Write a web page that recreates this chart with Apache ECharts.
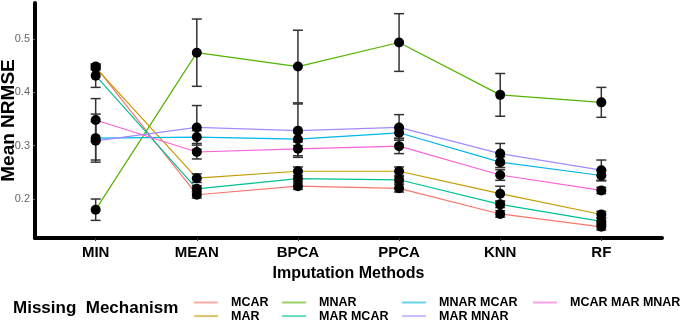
<!DOCTYPE html>
<html>
<head>
<meta charset="utf-8">
<script src="https://cdn.jsdelivr.net/npm/echarts@6/dist/echarts.min.js"></script>
<style>
html, body { margin: 0; padding: 0; background: #fff; }
#main { width: 685px; height: 320px; }
</style>
</head>
<body>
<div id="main"></div>
<script>
// imputation methods on the x axis
var methods = ['MIN', 'MEAN', 'BPCA', 'PPCA', 'KNN', 'RF'];
var yTicks = [0.2, 0.3, 0.4, 0.5];

// mean NRMSE per missing mechanism
var mcar      = [0.448, 0.208, 0.224, 0.220, 0.172, 0.148];
var mar       = [0.446, 0.239, 0.252, 0.252, 0.210, 0.171];
var mnar      = [0.180, 0.474, 0.448, 0.493, 0.395, 0.381];
var marMcar   = [0.431, 0.219, 0.238, 0.236, 0.190, 0.158];
var mnarMcar  = [0.314, 0.316, 0.312, 0.324, 0.269, 0.244];
var marMnar   = [0.309, 0.334, 0.328, 0.334, 0.285, 0.254];
var mcarMarMnar = [0.348, 0.288, 0.294, 0.299, 0.245, 0.216];

// error bar half widths
var mcarErr      = [0.004, 0.006, 0.006, 0.007, 0.006, 0.006];
var marErr       = [0.004, 0.008, 0.008, 0.008, 0.014, 0.006];
var mnarErr      = [0.020, 0.063, 0.068, 0.054, 0.040, 0.028];
var marMcarErr   = [0.022, 0.006, 0.006, 0.006, 0.006, 0.006];
var mnarMcarErr  = [0.045, 0.012, 0.012, 0.010, 0.010, 0.010];
var marMnarErr   = [0.036, 0.041, 0.050, 0.024, 0.019, 0.019];
var mcarMarMnarErr = [0.040, 0.013, 0.013, 0.014, 0.010, 0.006];

var groups = [
    { name: 'MCAR', values: mcar, err: mcarErr, color: '#F8766D' },
    { name: 'MAR', values: mar, err: marErr, color: '#C49A00' },
    { name: 'MNAR', values: mnar, err: mnarErr, color: '#53B400' },
    { name: 'MAR MCAR', values: marMcar, err: marMcarErr, color: '#00C094' },
    { name: 'MNAR MCAR', values: mnarMcar, err: mnarMcarErr, color: '#00B6EB' },
    { name: 'MAR MNAR', values: marMnar, err: marMnarErr, color: '#A58AFF' },
    { name: 'MCAR MAR MNAR', values: mcarMarMnar, err: mcarMarMnarErr, color: '#FB61D7' }
];

var myChart = echarts.init(document.getElementById('main'));

var series = [];
groups.forEach(function (g) {
    var pts = g.values.map(function (v, i) { return [i + 1, v]; });
    series.push({
        name: g.name,
        type: 'line',
        data: pts,
        showSymbol: false,
        lineStyle: { color: g.color, width: 1.2 },
        itemStyle: { color: g.color },
        z: 2,
        silent: true
    });
});
groups.forEach(function (g) {
    var bars = g.values.map(function (v, i) { return [i + 1, v - g.err[i], v + g.err[i]]; });
    series.push({
        name: g.name + ' err',
        type: 'custom',
        data: bars,
        z: 3,
        silent: true,
        renderItem: function (params, api) {
            var lo = api.coord([api.value(0), api.value(1)]);
            var hi = api.coord([api.value(0), api.value(2)]);
            var hw = 5;
            var st = { stroke: '#333', lineWidth: 1.5 };
            return {
                type: 'group',
                children: [
                    { type: 'line', shape: { x1: lo[0], y1: lo[1], x2: hi[0], y2: hi[1] }, style: st },
                    { type: 'line', shape: { x1: lo[0] - hw, y1: lo[1], x2: lo[0] + hw, y2: lo[1] }, style: st },
                    { type: 'line', shape: { x1: hi[0] - hw, y1: hi[1], x2: hi[0] + hw, y2: hi[1] }, style: st }
                ]
            };
        }
    });
});
groups.forEach(function (g) {
    series.push({
        name: g.name + ' pts',
        type: 'scatter',
        data: g.values.map(function (v, i) { return [i + 1, v]; }),
        symbolSize: 10,
        itemStyle: { color: '#000', opacity: 1 },
        z: 4,
        silent: true
    });
});

function legendCol(names, left) {
    return {
        orient: 'vertical',
        left: left,
        top: 296,
        padding: 0,
        height: 30,
        itemWidth: 24,
        itemHeight: 2,
        itemGap: 0.6,
        icon: 'rect',
        selectedMode: false,
        textStyle: { fontSize: 12.5, fontWeight: 'bold', color: '#000', fontFamily: 'Liberation Sans, Arial, sans-serif', lineHeight: 11, padding: [0, 0, 0, 8] },
        data: names.map(function (n) {
            var g = groups.filter(function (x) { return x.name === n; })[0];
            return { name: n, itemStyle: { color: g.color, opacity: 0.6 } };
        })
    };
}

var option = {
    backgroundColor: '#fff',
    animation: false,
    title: {
        text: 'Missing  Mechanism',
        left: 13,
        top: 300,
        padding: 0,
        textStyle: { fontSize: 17, fontWeight: 'bold', color: '#000', fontFamily: 'Liberation Sans, Arial, sans-serif' }
    },
    legend: [
        legendCol(['MCAR', 'MAR'], 194),
        legendCol(['MNAR', 'MAR MCAR'], 282),
        legendCol(['MNAR MCAR', 'MAR MNAR'], 402),
        legendCol(['MCAR MAR MNAR'], 533)
    ],
    grid: { left: 35, right: 23, top: 3, bottom: 82, containLabel: false, outerBoundsMode: 'none' },
    xAxis: {
        type: 'value',
        min: 0.4,
        max: 6.6,
        name: 'Imputation Methods',
        nameLocation: 'middle',
        nameGap: 28,
        nameMoveOverlap: false,
        nameTextStyle: { fontSize: 16, fontWeight: 'bold', color: '#000', fontFamily: 'Liberation Sans, Arial, sans-serif' },
        axisLine: { show: true, lineStyle: { color: '#000', width: 4 } },
        axisTick: { show: true, length: 3, customValues: [1, 2, 3, 4, 5, 6], lineStyle: { color: '#333' } },
        splitLine: { show: false },
        axisLabel: {
            customValues: [1, 2, 3, 4, 5, 6],
            formatter: function (v) { return methods[Math.round(v) - 1]; },
            fontSize: 15,
            fontWeight: 'bold',
            color: '#000',
            margin: 7,
            fontFamily: 'Liberation Sans, Arial, sans-serif'
        }
    },
    yAxis: {
        type: 'value',
        min: 0.127,
        max: 0.567,
        name: 'Mean NRMSE',
        nameLocation: 'middle',
        nameGap: 17,
        nameMoveOverlap: false,
        nameTextStyle: { fontSize: 19, fontWeight: 'bold', color: '#000', fontFamily: 'Liberation Sans, Arial, sans-serif' },
        axisLine: { show: true, lineStyle: { color: '#000', width: 4 } },
        axisTick: { show: true, length: 2, customValues: yTicks, lineStyle: { color: '#666' } },
        splitLine: { show: false },
        axisLabel: {
            customValues: yTicks,
            formatter: function (v) { return v.toFixed(1); },
            fontSize: 11,
            color: '#666',
            margin: 5,
            fontFamily: 'Liberation Sans, Arial, sans-serif'
        }
    },
    series: series
};

myChart.setOption(option);
</script>
</body>
</html>
